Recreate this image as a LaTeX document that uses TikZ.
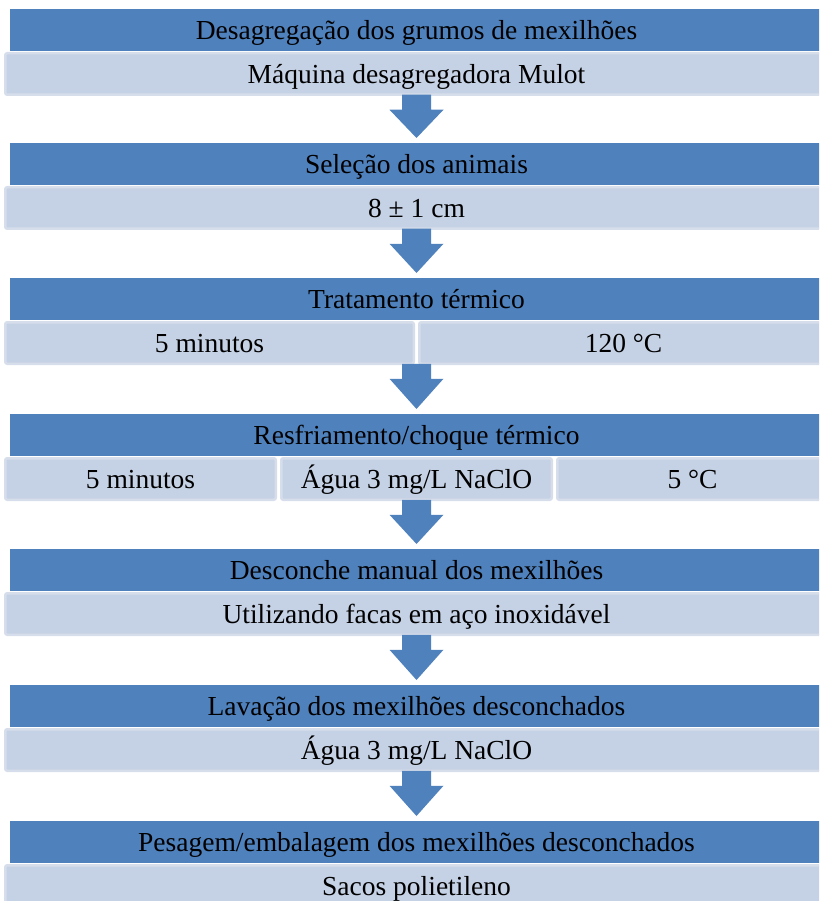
\documentclass[tikz,border=0pt]{standalone}
\usepackage{fontspec}
\setmainfont{Liberation Serif}
\usetikzlibrary{calc}
\definecolor{hdr}{RGB}{79,129,189}
\definecolor{subfill}{RGB}{197,209,228}
\definecolor{subedge}{RGB}{214,222,235}
\tikzset{
  txt/.style={text=black, font=\fontsize{27.5}{33}\selectfont, text height=18.2pt, text depth=0pt, inner sep=0pt, outer sep=0pt},
  hdrbox/.style={txt, anchor=north west, fill=hdr, minimum width=813pt, minimum height=42pt},
  subbox/.style={txt, anchor=north west, fill=subfill, draw=subedge, line width=2.5pt, rounded corners=2pt, minimum height=41.5pt},
  arrowc/.style={fill=hdr}
}
\newcommand\blockarrow[2]{%
  \fill[arrowc] ($(#1)+(-14.5,0)$) -- ($(#1)+(14.5,0)$) -- ($(#1)+(14.5,15)$) -- ($(#1)+(27,15)$) -- (#2) -- ($(#1)+(-27,15)$) -- ($(#1)+(-14.5,15)$) -- cycle;}
\begin{document}
\begin{tikzpicture}[x=1pt,y=-1pt]
\useasboundingbox (0,0) rectangle (819,901);
\clip (0,0) rectangle (819,901);

% Block 1
\node[hdrbox] (h1) at (10,9) {Desagregação dos grumos de mexilhões};
\node[subbox, minimum width=822.5pt] (s1) at (5.25,53.25) {Máquina desagregadora Mulot};

% Block 2
\node[hdrbox] (h2) at (10,143) {Seleção dos animais};
\node[subbox, minimum width=822.5pt] (s2) at (5.25,187.25) {8 ± 1 cm};

% Block 3
\node[hdrbox] (h3) at (10,278) {Tratamento térmico};
\node[subbox, minimum width=408.5pt] (s3a) at (5.25,322.25) {5 minutos};
\node[subbox, minimum width=408.5pt] (s3b) at (419.25,322.25) {120 °C};

% Block 4
\node[hdrbox] (h4) at (10,414) {Resfriamento/choque térmico};
\node[subbox, minimum width=270.5pt] (s4a) at (5.25,458.25) {5 minutos};
\node[subbox, minimum width=270.5pt] (s4b) at (281.25,458.25) {Água 3 mg/L NaClO};
\node[subbox, minimum width=270.5pt] (s4c) at (557.25,458.25) {5 °C};

% Block 5
\node[hdrbox] (h5) at (10,549) {Desconche manual dos mexilhões};
\node[subbox, minimum width=822.5pt] (s5) at (5.25,593.25) {Utilizando facas em aço inoxidável};

% Block 6
\node[hdrbox] (h6) at (10,685) {Lavação dos mexilhões desconchados};
\node[subbox, minimum width=822.5pt] (s6) at (5.25,729.25) {Água 3 mg/L NaClO};

% Block 7
\node[hdrbox] (h7) at (10,821) {Pesagem/embalagem dos mexilhões desconchados};
\node[subbox, minimum width=822.5pt] (s7) at (5.25,865.25) {Sacos polietileno};

% Arrows
\coordinate (p1) at (h1.south |- s1.south);
\coordinate (t1) at ($(h2.north)+(0,-5)$);
\blockarrow{p1}{t1}
\coordinate (p2) at (h2.south |- s2.south);
\coordinate (t2) at ($(h3.north)+(0,-5)$);
\blockarrow{p2}{t2}
\coordinate (p3) at (h3.south |- s3a.south);
\coordinate (t3) at ($(h4.north)+(0,-5)$);
\blockarrow{p3}{t3}
\coordinate (p4) at (h4.south |- s4b.south);
\coordinate (t4) at ($(h5.north)+(0,-5)$);
\blockarrow{p4}{t4}
\coordinate (p5) at (h5.south |- s5.south);
\coordinate (t5) at ($(h6.north)+(0,-5)$);
\blockarrow{p5}{t5}
\coordinate (p6) at (h6.south |- s6.south);
\coordinate (t6) at ($(h7.north)+(0,-5)$);
\blockarrow{p6}{t6}
\end{tikzpicture}
\end{document}
